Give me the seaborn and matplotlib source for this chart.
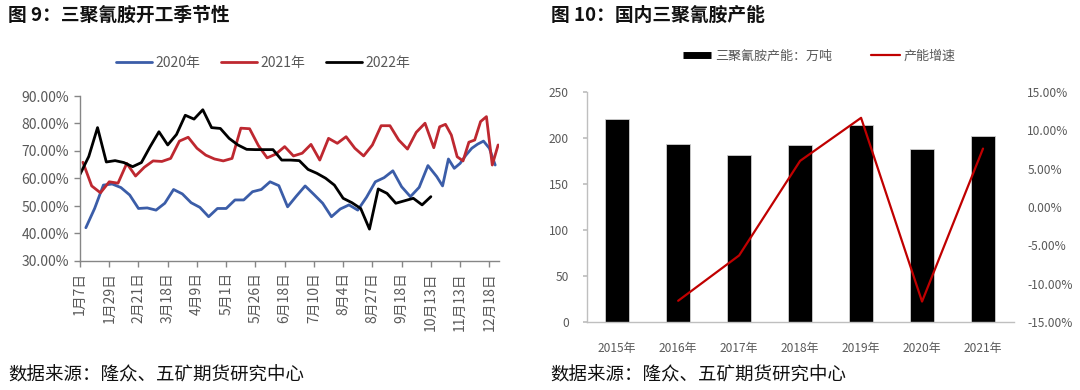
import numpy as np
import pandas as pd
import matplotlib
matplotlib.use("Agg")
import matplotlib.pyplot as plt
import seaborn as sns
from matplotlib.lines import Line2D
from matplotlib.ticker import FuncFormatter

# ---------------- Left chart data: melamine operating rate (%) ----------------
rate_2020 = [42.1, 49.1, 57.6, 58.0, 56.7, 54.0, 49.1, 49.3, 48.5, 51.0,
             56.0, 54.4, 51.2, 49.5, 46.1, 49.1, 49.1, 52.2, 52.2, 55.2,
             56.0, 58.8, 57.4, 49.7, 53.6, 57.3, 54.2, 51.0, 46.1, 48.9,
             50.4, 48.5, 53.2, 58.8, 60.3, 62.8, 57.0, 53.4, 56.8, 64.7,
             60.7, 57.3, 67.1, 63.7, 65.5, 68.5, 71.0, 72.5, 73.6, 71.0,
             64.9]
rate_2021 = [65.9, 57.3, 54.8, 58.8, 58.3, 65.5, 60.9, 64.1, 66.4, 66.2,
             67.3, 73.6, 75.0, 71.0, 68.5, 67.1, 66.4, 67.3, 78.3, 78.1,
             72.0, 67.5, 68.9, 71.6, 68.2, 69.2, 72.4, 66.7, 74.6, 72.8,
             75.2, 71.0, 68.2, 72.2, 79.2, 79.2, 74.0, 70.7, 76.8, 80.1,
             71.2, 78.8, 79.7, 75.8, 67.9, 66.4, 73.2, 74.0, 80.7, 82.5,
             64.9, 72.2]
rate_2022 = [61.5, 68.0, 78.5, 66.0, 66.5, 65.8, 64.3, 65.8, 71.6, 77.0,
             72.2, 76.0, 83.0, 81.6, 85.0, 78.5, 78.2, 74.6, 72.2, 70.6,
             70.5, 70.5, 70.5, 66.7, 66.7, 66.5, 63.3, 61.9, 60.1, 57.6,
             52.8, 51.2, 49.1, 41.6, 56.2, 54.6, 51.0, 51.9, 52.8, 50.4,
             53.4]
series_names = ["2020年", "2021年", "2022年"]
first_dates = ["2020-01-10", "2021-01-08", "2022-01-07"]   # weekly (Friday) observations
date_labels = ["1月7日", "1月29日", "2月21日", "3月18日", "4月9日", "5月1日",
               "5月26日", "6月18日", "7月10日", "8月4日", "8月27日", "9月18日",
               "10月13日", "11月13日", "12月18日"]
yticks_left = [30, 40, 50, 60, 70, 80, 90]

# ---------------- Right chart data: capacity ----------------
years = ["2015年", "2016年", "2017年", "2018年", "2019年", "2020年", "2021年"]
capacity = [220, 193, 181, 192, 214, 188, 202]          # 万吨
growth_years = ["2016年", "2017年", "2018年", "2019年", "2020年", "2021年"]
growth = [-12.2, -6.3, 6.0, 11.6, -12.3, 7.6]            # %

# ---------------- style ----------------
sns.set_theme(style="white")
plt.rcParams["font.family"] = ["Noto Sans CJK SC", "DejaVu Sans"]
plt.rcParams["axes.unicode_minus"] = False

BLUE = "#3B5DA8"
RED = "#BE2830"
BLACK = "#000000"
TXT = "#595959"

fig = plt.figure(figsize=(10.8, 3.9), dpi=100)

# ---------------- Left chart ----------------
axL = fig.add_axes([80 / 1080, 1 - 261 / 390, 419 / 1080, 165 / 390])

all_vals = [rate_2020, rate_2021, rate_2022]
date_lists = [pd.date_range(s, periods=len(v), freq="W-FRI") for s, v in zip(first_dates, all_vals)]
keys = sorted({(d.month, d.day) for dl in date_lists for d in dl})
cat_index = {k: i for i, k in enumerate(keys)}

for vals, dl, name, col in zip(all_vals, date_lists, series_names, [BLUE, RED, BLACK]):
    xs = [cat_index[(d.month, d.day)] for d in dl]
    df = pd.DataFrame({"x": xs, "y": vals})
    sns.lineplot(data=df, x="x", y="y", ax=axL, color=col, linewidth=2.0,
                 label=name, estimator=None, sort=False)

n_cat = len(keys)
axL.set_xlim(0, n_cat - 1 + 0.3)
axL.set_ylim(30, 90)
axL.set_yticks(yticks_left)
axL.yaxis.set_major_formatter(FuncFormatter(lambda v, p: f"{v:.2f}%"))
axL.set_xticks(np.arange(len(date_labels)) * 10)
axL.set_xticklabels(date_labels, rotation=90)
axL.set_xlabel("")
axL.set_ylabel("")
for s in ["top", "right"]:
    axL.spines[s].set_visible(False)
for s in ["left", "bottom"]:
    axL.spines[s].set_color("#868686")
    axL.spines[s].set_linewidth(1.0)
axL.tick_params(axis="both", which="both", direction="out", length=4, width=1,
                color="#868686", labelcolor=TXT, labelsize=10, pad=3)
axL.tick_params(axis="y", pad=4)
axL.tick_params(axis="x", bottom=True, pad=4)
axL.tick_params(axis="y", left=True)

leg = axL.legend(loc="center", bbox_to_anchor=(0.437, 1.2), ncol=3, frameon=False,
                 fontsize=10, handlelength=2.6, handletextpad=0.25, columnspacing=1.5)
for t in leg.get_texts():
    t.set_color(TXT)

# ---------------- Right chart ----------------
axR = fig.add_axes([586.7 / 1080, 1 - 322.3 / 390, 426.8 / 1080, 230.6 / 390])
bar_df = pd.DataFrame({"year": years, "cap": capacity})
sns.barplot(data=bar_df, x="year", y="cap", ax=axR, color=BLACK, width=0.39,
            edgecolor="#cfcfcf", linewidth=0.6, saturation=1)
axR.set_ylim(0, 250)
axR.set_yticks([0, 50, 100, 150, 200, 250])
axR.set_xlabel("")
axR.set_ylabel("")
for s in ["top", "right"]:
    axR.spines[s].set_visible(False)
for s in ["left", "bottom"]:
    axR.spines[s].set_color("#bfbfbf")
    axR.spines[s].set_linewidth(1.0)
axR.tick_params(axis="y", left=True, direction="out", length=3, color="#bfbfbf",
                labelcolor=TXT, labelsize=8.6, pad=10)
axR.tick_params(axis="x", bottom=False, labelcolor=TXT, labelsize=8.6, pad=8)

axR2 = axR.twinx()
gx = [years.index(y) for y in growth_years]
gdf = pd.DataFrame({"x": gx, "g": growth})
sns.lineplot(data=gdf, x="x", y="g", ax=axR2, color="#C00000", linewidth=1.6,
             estimator=None, sort=False)
axR2.set_ylim(-15, 15)
axR2.set_yticks([-15, -10, -5, 0, 5, 10, 15])
axR2.yaxis.set_major_formatter(FuncFormatter(lambda v, p: f"{v:.2f}%"))
axR2.set_ylabel("")
axR2.set_xlabel("")
for s in axR2.spines.values():
    s.set_visible(False)
axR2.tick_params(axis="y", right=False, length=0, labelcolor=TXT, labelsize=8.6, pad=10)
axR.set_xlim(-0.5, len(years) - 0.5)
axR2.set_xlim(-0.5, len(years) - 0.5)

handles = [Line2D([0], [0], color=BLACK, lw=5, solid_capstyle="butt"),
           Line2D([0], [0], color="#C00000", lw=1.6)]
leg2 = axR.legend(handles, ["三聚氰胺产能：万吨", "产能增速"], loc="center",
                  bbox_to_anchor=(0.545, 1.155), ncol=2, frameon=False, fontsize=9.4,
                  handlelength=2.2, handletextpad=0.3, columnspacing=3.0)
for t in leg2.get_texts():
    t.set_color(TXT)

# ---------------- Titles & footers ----------------
fig.text(8 / 1080, 1 - 15 / 390, "图 9：三聚氰胺开工季节性", fontsize=13.5,
         fontweight="bold", va="center", ha="left", color="#111111")
fig.text(551 / 1080, 1 - 15 / 390, "图 10：国内三聚氰胺产能", fontsize=13.5,
         fontweight="bold", va="center", ha="left", color="#111111")
fig.text(8 / 1080, 1 - 376 / 390, "数据来源：隆众、五矿期货研究中心", fontsize=13.3,
         va="center", ha="left", color="#111111")
fig.text(550 / 1080, 1 - 376 / 390, "数据来源：隆众、五矿期货研究中心", fontsize=13.3,
         va="center", ha="left", color="#111111")

fig.savefig("out.png", dpi=100)
